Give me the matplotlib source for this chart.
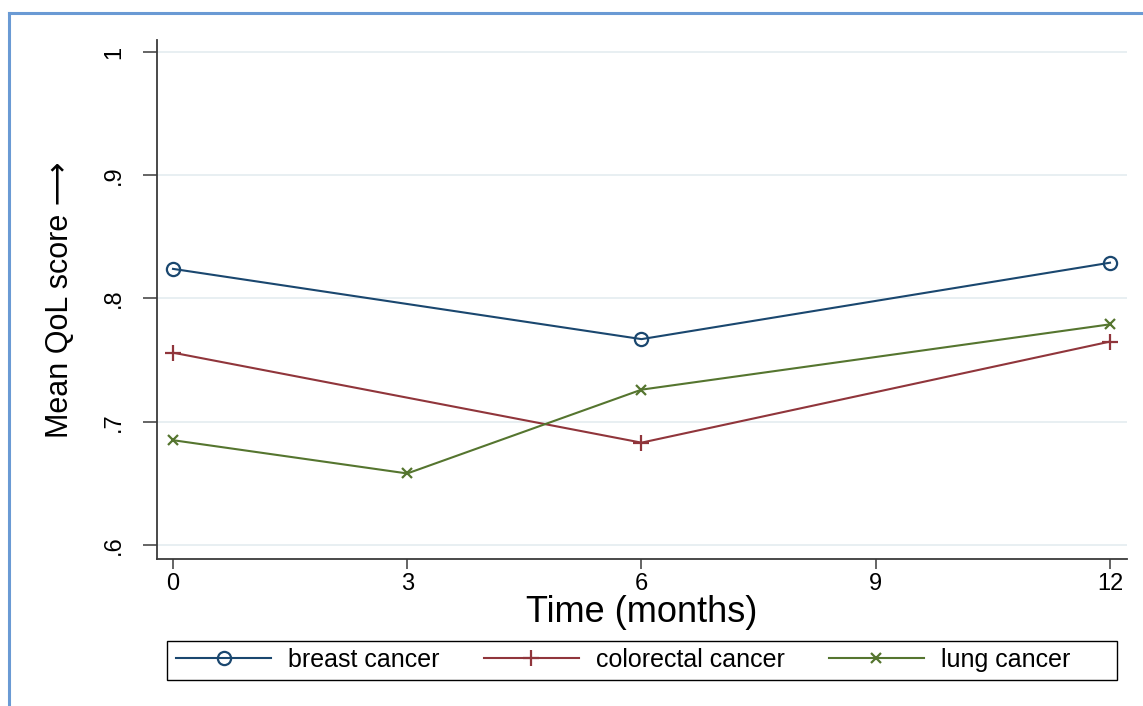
import matplotlib.pyplot as plt
from matplotlib.lines import Line2D
from matplotlib.patches import Rectangle

# data
months_breast = [0, 6, 12]
qol_breast = [0.824, 0.767, 0.829]
months_colorectal = [0, 6, 12]
qol_colorectal = [0.756, 0.683, 0.765]
months_lung = [0, 3, 6, 12]
qol_lung = [0.685, 0.658, 0.726, 0.779]

x_ticks = [0, 3, 6, 9, 12]
y_ticks = [0.6, 0.7, 0.8, 0.9, 1.0]
y_ticklabels = [".6", ".7", ".8", ".9", "1"]

navy = "#1a476f"
maroon = "#90353b"
green = "#55752f"

plt.rcParams['font.family'] = ['Liberation Sans', 'DejaVu Sans']

fig = plt.figure(figsize=(11.43, 7.06), dpi=100)
ax = fig.add_axes([157/1143, 147/706, 970/1143, 519/706])

ax.plot(months_breast, qol_breast, color=navy, lw=1.5, marker='o', ms=9.5,
        mfc='none', mec=navy, mew=1.6, label='breast cancer')
ax.plot(months_colorectal, qol_colorectal, color=maroon, lw=1.5, marker='+',
        ms=11, mew=1.6, label='colorectal cancer')
ax.plot(months_lung, qol_lung, color=green, lw=1.5, marker='x', ms=7.5,
        mew=1.6, label='lung cancer')

ax.set_xlim(-0.205, 12.218)
ax.set_ylim(0.5886, 1.0097)
ax.set_xticks(x_ticks)
ax.set_yticks(y_ticks)
ax.set_yticklabels(y_ticklabels, rotation=90, va='center')
for y in y_ticks:
    ax.axhline(y, color='#e6eef1', lw=1.3, zorder=0)

for s in ['top', 'right']:
    ax.spines[s].set_visible(False)
for s in ['left', 'bottom']:
    ax.spines[s].set_color('#3a3a3a')
    ax.spines[s].set_linewidth(1.3)
ax.tick_params(axis='both', colors='#3a3a3a', labelcolor='black', labelsize=17,
               width=1.1)
ax.tick_params(axis='y', length=10, pad=13)
ax.tick_params(axis='x', length=7, pad=3)

ax.set_xlabel('Time (months)', fontsize=26, labelpad=0)
ax.set_ylabel('Mean QoL score \u27f6', fontsize=22, labelpad=20)

# legend: entries packed from the left, box drawn separately
handles, labels = ax.get_legend_handles_labels()
leg = fig.legend(handles, labels, loc='center left', ncol=3,
                 bbox_to_anchor=(176/1143, 1 - 660/706),
                 fontsize=18, frameon=False, handlelength=3.8,
                 borderaxespad=0, borderpad=0, handletextpad=0.7,
                 columnspacing=1.75)
fig.add_artist(Rectangle((167/1143, 26/706), 950/1143, 39/706,
                         transform=fig.transFigure, fill=False,
                         edgecolor='black', lw=1.0))

# outer frame (top and left edges visible)
fig.add_artist(Line2D([9/1143, 9/1143], [0, 1 - 13/706], color='#6a9ad4', lw=2.2))
fig.add_artist(Line2D([9/1143, 1], [1 - 13/706, 1 - 13/706], color='#6a9ad4', lw=2.2))

fig.savefig('out.png', dpi=100)
